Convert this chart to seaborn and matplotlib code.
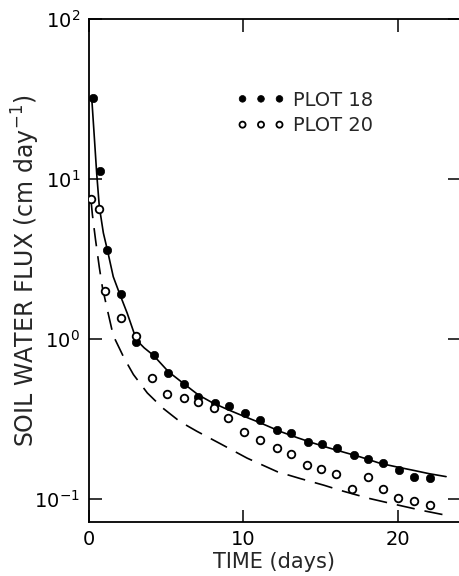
import numpy as np
import pandas as pd
import matplotlib
matplotlib.use("Agg")
import matplotlib.pyplot as plt
import seaborn as sns
from matplotlib.ticker import FixedLocator, NullLocator

# ── Measured flux (cm/day) ─────────────────────────────────────────
plot18_t = [0.28, 0.72, 1.2, 2.1, 3.1, 4.2, 5.15, 6.15, 7.1, 8.15, 9.1, 10.1,
            11.1, 12.15, 13.1, 14.15, 15.1, 16.05, 17.15, 18.05, 19.05, 20.05,
            21.05, 22.05]
plot18_q = [32.0, 11.3, 3.6, 1.9, 0.96, 0.79, 0.615, 0.52, 0.437, 0.40, 0.381,
            0.346, 0.312, 0.27, 0.258, 0.228, 0.22, 0.207, 0.188, 0.177, 0.167,
            0.152, 0.138, 0.135]

plot20_t = [0.18, 0.68, 1.05, 2.1, 3.1, 4.1, 5.05, 6.15, 7.1, 8.1, 9.0, 10.05,
            11.05, 12.15, 13.05, 14.1, 15.05, 16.0, 17.0, 18.05, 19.05, 20.0,
            21.05, 22.05]
plot20_q = [7.5, 6.5, 2.0, 1.36, 1.04, 0.568, 0.453, 0.426, 0.406, 0.369, 0.322,
            0.261, 0.234, 0.209, 0.19, 0.162, 0.153, 0.143, 0.115, 0.137, 0.115,
            0.102, 0.097, 0.092]

# ── Model curves ──────────────────────────────────────────────────
solid_t = [0.2, 0.36, 0.53, 0.7, 0.96, 1.22, 1.6, 2.0, 2.5, 3.1, 3.6, 4.2,
           5.16, 6.13, 7.1, 8.0, 9.0, 10.0, 11.0, 12.4, 13.5, 14.5, 15.5,
           16.5, 17.5, 18.85, 20.0, 21.0, 22.0, 23.1]
solid_q = [33.0, 19.3, 10.8, 6.7, 4.6, 3.6, 2.45, 1.93, 1.45, 0.985, 0.88, 0.79,
           0.625, 0.528, 0.447, 0.40, 0.362, 0.33, 0.302, 0.264, 0.2415, 0.224,
           0.209, 0.196, 0.184, 0.167, 0.158, 0.151, 0.144, 0.138]

dashed_t = [0.16, 0.25, 0.45, 0.7, 0.9, 1.2, 1.6, 2.3, 2.9, 3.8, 4.8, 5.9, 7.0,
            8.5, 10.25, 12.2, 13.7, 15.2, 16.3, 18.1, 19.7, 21.5, 23.15]
dashed_q = [7.4, 6.0, 4.2, 2.8, 2.1, 1.55, 1.05, 0.76, 0.6, 0.46, 0.37, 0.305,
            0.265, 0.222, 0.18, 0.148, 0.134, 0.122, 0.113, 0.101, 0.093, 0.085,
            0.079]

sns.set_style("ticks")
plt.rcParams["font.family"] = ["DejaVu Sans"]
plt.rcParams["mathtext.default"] = "regular"

fig = plt.figure(figsize=(4.59, 5.76), dpi=100)
ax = fig.add_axes([88.5 / 459, 54 / 576, (460 - 88.5) / 459, (522 - 19) / 576])

sns.lineplot(x=solid_t, y=solid_q, ax=ax, color="black", lw=1.2, sort=False)
sns.lineplot(x=dashed_t, y=dashed_q, ax=ax, color="black", lw=1.2, sort=False,
             dashes=False, linestyle=(0, (11, 6)))

sns.scatterplot(x=plot18_t, y=plot18_q, ax=ax, color="black", s=36,
                edgecolor="black", linewidth=0.5, label="PLOT 18", zorder=3)
sns.scatterplot(x=plot20_t, y=plot20_q, ax=ax, facecolor="white", s=30,
                edgecolor="black", linewidth=1.3, label="PLOT 20", zorder=3)

ax.set_yscale("log")
ax.set_xlim(0, 24)
ax.set_ylim(10 ** (-1 - 23 / 160), 100)

ax.xaxis.set_major_locator(FixedLocator([0, 10, 20]))
ax.set_xticklabels(["0", "10", "20"])
ax.yaxis.set_major_locator(FixedLocator([0.1, 1, 10, 100]))
ax.yaxis.set_minor_locator(NullLocator())
ax.set_yticklabels(["$10^{-1}$", "$10^{0}$", "$10^{1}$", "$10^{2}$"])

ax.tick_params(direction="in", length=9, width=1.1, top=True, right=True,
               labelsize=14, colors="black", pad=6)
ax.tick_params(axis="y", pad=6)
for side in ["left", "bottom", "top"]:
    ax.spines[side].set_linewidth(1.3)
    ax.spines[side].set_color("black")
ax.spines["right"].set_visible(False)

ax.set_xlabel("TIME (days)", fontsize=15, labelpad=2)
ax.set_ylabel("SOIL WATER FLUX (cm day$^{-1}$)", fontsize=17)
ax.yaxis.set_label_coords(-0.125, 0.5)

leg = ax.legend(loc="upper left", bbox_to_anchor=(0.378, 0.873), frameon=False,
                scatterpoints=3, scatteryoffsets=[0.5], fontsize=14,
                handletextpad=0.4, handlelength=2.5, markerscale=0.8,
                labelspacing=0.35, borderaxespad=0)

fig.savefig("out.png", dpi=100)
